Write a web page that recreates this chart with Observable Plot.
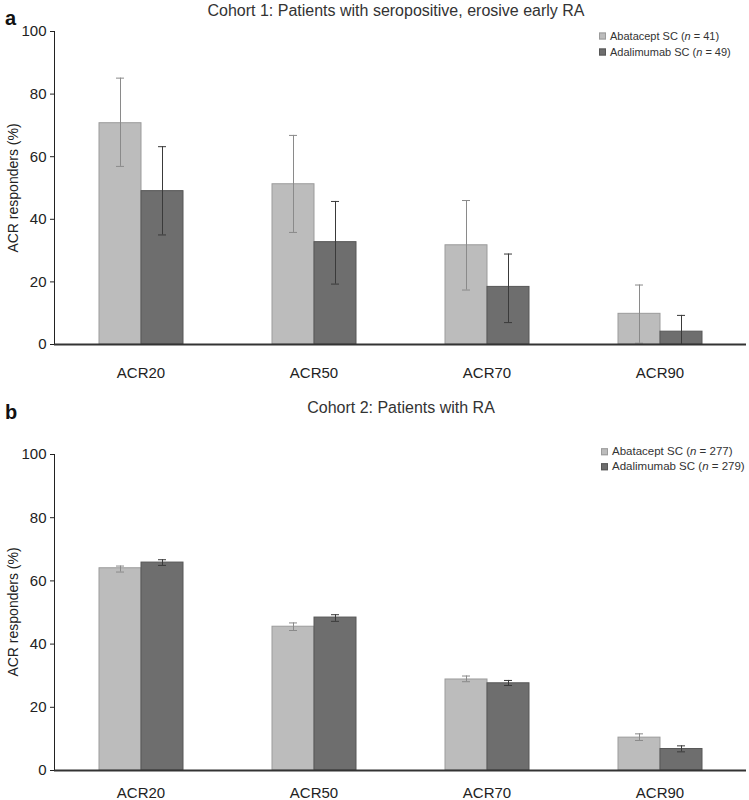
<!DOCTYPE html>
<html>
<head>
<meta charset="utf-8">
<script src="https://cdn.jsdelivr.net/npm/d3@7"></script>
<script src="https://cdn.jsdelivr.net/npm/@observablehq/plot@0.6"></script>
<style>
  body { margin: 0; background: #fff; font-family: "Liberation Sans", Arial, sans-serif; }
  #root { position: relative; width: 749px; height: 800px; overflow: hidden; }
  .panel { position: absolute; left: 0; width: 749px; height: 400px; }
  .panel svg { position: absolute; left: 0; top: 0; }
  .letter { position: absolute; font-weight: bold; font-size: 20px; color: #111; line-height: 1; }
  .title { position: absolute; font-size: 16px; color: #333; transform: translate(-50%, -50%); white-space: nowrap; line-height: 1; }
  .ylabel { position: absolute; font-size: 14px; color: #222; transform: translate(-50%, -50%) rotate(-90deg); white-space: nowrap; line-height: 1; }
  .legend { position: absolute; font-size: 11px; color: #333; line-height: 1; }
  .legend .row { position: absolute; left: 0; display: flex; align-items: center; white-space: nowrap; transform: translateY(-50%); }
  .legend .sw { width: 5px; height: 5px; margin-right: 4px; border: 1px solid; }
</style>
</head>
<body>
<div id="root"></div>
<script>
// ---- data ----
const categories = ["ACR20", "ACR50", "ACR70", "ACR90"];
const seriesNames = ["Abatacept SC", "Adalimumab SC"];
const yTicks = [0, 20, 40, 60, 80, 100];
const yLabel = "ACR responders (%)";

const cohort1Title = "Cohort 1: Patients with seropositive, erosive early RA";
const cohort1N = [41, 49];
const c1Abatacept = [70.7, 51.2, 31.7, 9.8];
const c1AbataceptLow = [56.9, 35.8, 17.4, 0.4];
const c1AbataceptHigh = [85.1, 66.8, 46.0, 19.0];
const c1Adalimumab = [49.0, 32.7, 18.4, 4.1];
const c1AdalimumabLow = [35.0, 19.3, 7.0, 0.0];
const c1AdalimumabHigh = [63.2, 45.7, 28.9, 9.3];

const cohort2Title = "Cohort 2: Patients with RA";
const cohort2N = [277, 279];
const c2Abatacept = [64.0, 45.5, 28.8, 10.4];
const c2AbataceptLow = [62.8, 44.3, 28.1, 9.5];
const c2AbataceptHigh = [64.7, 46.7, 29.9, 11.6];
const c2Adalimumab = [65.8, 48.4, 27.6, 6.8];
const c2AdalimumabLow = [64.9, 47.2, 26.9, 5.9];
const c2AdalimumabHigh = [66.7, 49.3, 28.5, 7.8];

// ---- styles ----
const fills = ["#bcbcbc", "#6e6e6e"];
const strokes = ["#9b9b9b", "#575757"];
const errColors = ["#8a8a8a", "#3a3a3a"];

function buildRows(values, lows, highs) {
  const rows = [];
  seriesNames.forEach((s, j) => {
    categories.forEach((c, i) => {
      rows.push({cat: c, series: s, value: values[j][i], low: lows[j][i], high: highs[j][i]});
    });
  });
  return rows;
}

function drawPanel(rows, cfg) {
  const marks = [];
  seriesNames.forEach((s, j) => {
    const sub = rows.filter(d => d.series === s);
    marks.push(Plot.barY(sub, {fx: "cat", x: "series", y: "value", fill: fills[j], stroke: strokes[j], strokeWidth: 1}));
  });
  seriesNames.forEach((s, j) => {
    const sub = rows.filter(d => d.series === s);
    marks.push(Plot.ruleX(sub, {fx: "cat", x: "series", y1: "low", y2: "high", stroke: errColors[j], strokeWidth: 1}));
    marks.push(Plot.tickY(sub, {fx: "cat", x: "series", y: "low", stroke: errColors[j], strokeWidth: 1, insetLeft: 17, insetRight: 17}));
    marks.push(Plot.tickY(sub, {fx: "cat", x: "series", y: "high", stroke: errColors[j], strokeWidth: 1, insetLeft: 17, insetRight: 17}));
  });
  marks.push(Plot.ruleY([0], {stroke: "#333", strokeWidth: 2}));
  return Plot.plot({
    width: 749,
    height: 400,
    marginLeft: 53,
    marginRight: 2,
    marginTop: cfg.marginTop,
    marginBottom: cfg.marginBottom,
    style: {fontFamily: '"Liberation Sans", Arial, sans-serif', fontSize: "15px", color: "#222", background: "transparent", overflow: "visible"},
    fx: {domain: categories, padding: 0, label: null, tickSize: 0, tickPadding: cfg.labelPadding},
    x: {domain: seriesNames, paddingInner: 0, paddingOuter: 1.04, axis: null},
    y: {domain: [0, 100], ticks: yTicks, tickSize: 4, tickPadding: 4, label: null, line: true},
    marks
  });
}

function addPanel(top, letter, title, titleX, titleY, nValues, legendX, legendY, rows, cfg) {
  const root = document.getElementById("root");
  const p = document.createElement("div");
  p.className = "panel";
  p.style.top = top + "px";
  p.appendChild(drawPanel(rows, cfg));
  const l = document.createElement("div");
  l.className = "letter";
  l.style.left = "5px";
  l.style.top = cfg.letterTop + "px";
  l.textContent = letter;
  p.appendChild(l);
  const t = document.createElement("div");
  t.className = "title";
  t.style.left = titleX + "px";
  t.style.top = titleY + "px";
  t.textContent = title;
  p.appendChild(t);
  const yl = document.createElement("div");
  yl.className = "ylabel";
  yl.style.left = "13px";
  yl.style.top = ((cfg.marginTop + 400 - cfg.marginBottom) / 2) + "px";
  yl.textContent = yLabel;
  p.appendChild(yl);
  const lg = document.createElement("div");
  lg.className = "legend";
  lg.style.left = legendX + "px";
  lg.style.top = legendY + "px";
  lg.style.fontSize = cfg.legendFont + "px";
  seriesNames.forEach((s, j) => {
    const r = document.createElement("div");
    r.className = "row";
    r.style.top = (j * cfg.legendGap) + "px";
    const sw = document.createElement("span");
    sw.className = "sw";
    sw.style.background = fills[j];
    sw.style.borderColor = strokes[j];
    r.appendChild(sw);
    const tx = document.createElement("span");
    tx.innerHTML = s + " (<i>n</i> = " + nValues[j] + ")";
    r.appendChild(tx);
    lg.appendChild(r);
  });
  p.appendChild(lg);
  root.appendChild(p);
}

addPanel(0, "a", cohort1Title, 396, 11, cohort1N, 599, 36,
  buildRows([c1Abatacept, c1Adalimumab], [c1AbataceptLow, c1AdalimumabLow], [c1AbataceptHigh, c1AdalimumabHigh]),
  {marginTop: 31, marginBottom: 56, labelPadding: 23, letterTop: 8, legendGap: 16, legendFont: 11});

addPanel(400, "b", cohort2Title, 401, 8, cohort2N, 601, 52,
  buildRows([c2Abatacept, c2Adalimumab], [c2AbataceptLow, c2AdalimumabLow], [c2AbataceptHigh, c2AdalimumabHigh]),
  {marginTop: 54, marginBottom: 30, labelPadding: 17, letterTop: 2, legendGap: 15, legendFont: 11.5});
</script>
</body>
</html>
